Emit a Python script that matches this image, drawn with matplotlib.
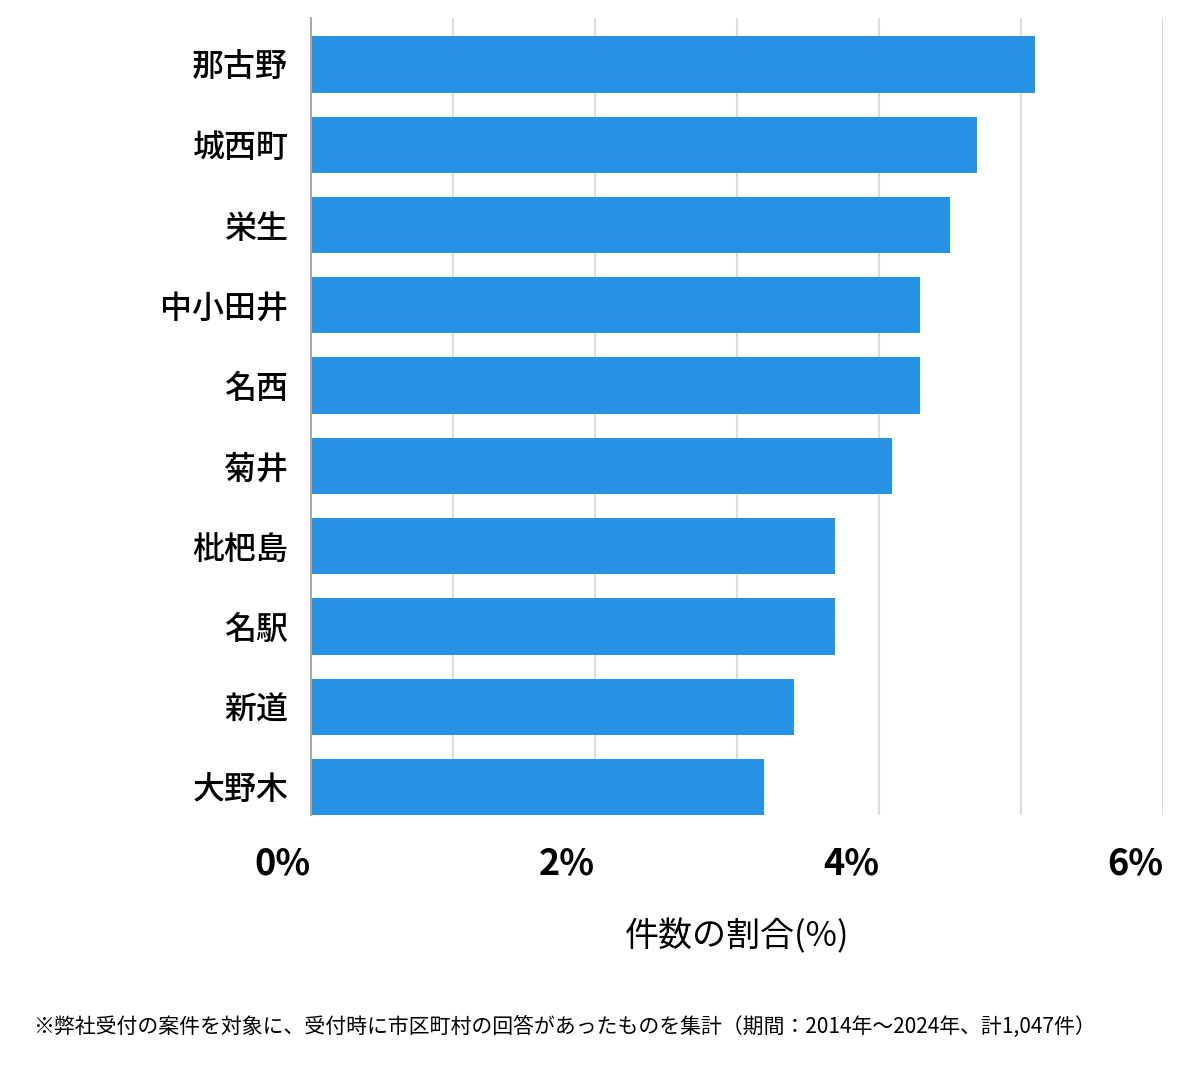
import matplotlib.pyplot as plt
import numpy as np

plt.rcParams['font.family'] = ['Noto Sans CJK JP', 'DejaVu Sans']

areas = ['那古野', '城西町', '栄生', '中小田井', '名西', '菊井', '枇杷島', '名駅', '新道', '大野木']
shares = [5.10, 4.69, 4.50, 4.29, 4.29, 4.09, 3.69, 3.69, 3.40, 3.19]
x_ticks = [0, 2, 4, 6]
x_tick_labels = ['0%', '2%', '4%', '6%']

bar_color = '#2592e3'

fig = plt.figure(figsize=(12, 10.69), dpi=100)
ax = fig.add_axes([0.2588, 0.2376, 0.7104, 0.7456])

y = np.arange(len(areas))
ax.barh(y, shares, height=0.70, color=bar_color, zorder=3)
ax.set_ylim(9.349, -0.579)
ax.set_xlim(0, 6)

# light vertical grid every 1%
for v in range(1, 7):
    ax.axvline(v, color='#dddddd', linewidth=1.5, zorder=1)

for side in ['top', 'right', 'bottom']:
    ax.spines[side].set_visible(False)
ax.spines['left'].set_color('#aaaaaa')
ax.spines['left'].set_linewidth(1.5)
ax.spines['left'].set_zorder(4)

ax.set_yticks(y)
ax.set_yticklabels(areas, fontsize=23, fontweight='medium')
ax.tick_params(axis='y', length=0, pad=16)

ax.set_xticks(x_ticks)
ax.set_xticklabels(x_tick_labels, fontsize=26, fontweight='bold', ha='right')
ax.tick_params(axis='x', length=0, pad=22)

ax.set_xlabel('件数の割合(%)', fontsize=24.5, labelpad=26)

fig.text(0.0275, 0.039, '※弊社受付の案件を対象に、受付時に市区町村の回答があったものを集計（期間：2014年～2024年、計1,047件）',
         fontsize=15, ha='left', va='center')

fig.savefig('out.png', dpi=100)
